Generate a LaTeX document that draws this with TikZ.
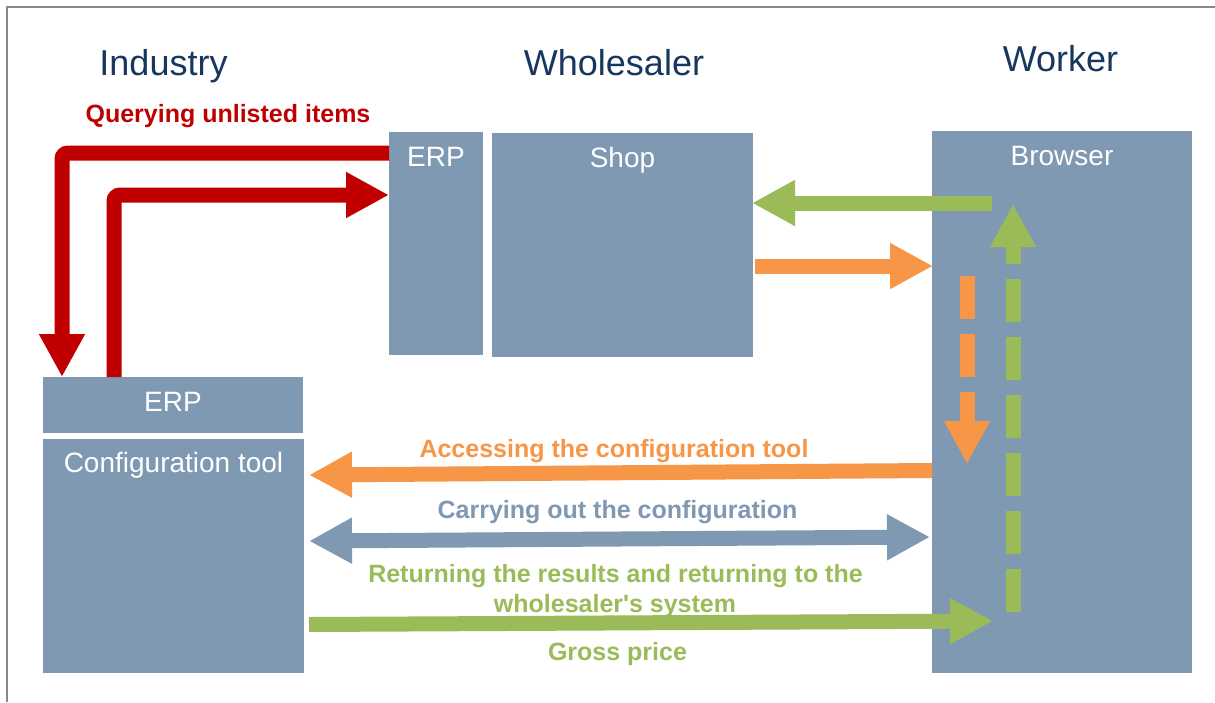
\documentclass[tikz,border=0pt]{standalone}
\usepackage{fontspec}
\setmainfont{Liberation Sans}
\usetikzlibrary{arrows.meta,calc}
\definecolor{boxblue}{RGB}{127,153,178}
\definecolor{navy}{RGB}{23,55,94}
\definecolor{cred}{RGB}{192,0,0}
\definecolor{corange}{RGB}{247,150,70}
\definecolor{cgreen}{RGB}{155,187,89}
\definecolor{framegray}{RGB}{136,136,136}
\begin{document}
\begin{tikzpicture}[x=1pt,y=-1pt,
  box/.style={fill=boxblue, draw=none, inner sep=0pt, outer sep=0pt, anchor=north west},
  boxtext/.style={text=white, font=\fontsize{28}{32}\selectfont, inner sep=0pt, anchor=base},
  header/.style={text=navy, font=\fontsize{36}{42}\selectfont, inner sep=0pt, anchor=base},
  lab/.style={font=\bfseries\fontsize{25}{29}\selectfont, inner sep=0pt, anchor=base},
  fat/.style={line width=15pt, -{Triangle[length=43pt,width=43pt]}},
  dashfat/.style={fat, dash pattern=on 43pt off 15pt},
  twohead/.style={line width=15pt, {Triangle[length=43pt,width=43pt]}-{Triangle[length=43pt,width=43pt]}}]
\useasboundingbox (0,0) rectangle (1215,702);
\fill[white] (0,0) rectangle (1215,702);
\draw[framegray, line width=2pt] (7,702) -- (7,7) -- (1215,7);

% boxes
\node[box, minimum width=94pt, minimum height=223pt] (werp) at (389,132) {};
\node[box, minimum width=261pt, minimum height=224pt] (shop) at (492,133) {};
\node[box, minimum width=260pt, minimum height=542pt] (browser) at (932,131) {};
\node[box, minimum width=260pt, minimum height=56pt] (ierp) at (43,377) {};
\node[box, minimum width=261pt, minimum height=234pt] (ctool) at (43,439) {};

% box labels
\node[boxtext] (werpL) at ($(werp.north)+(0,34)$) {ERP};
\node[boxtext] (shopL) at ($(shop.north)+(0,34)$) {Shop};
\node[boxtext] (browserL) at ($(browser.north)+(0,34)$) {Browser};
\node[boxtext] (ierpL) at ($(ierp.north)+(0,34)$) {ERP};
\node[boxtext] (ctoolL) at ($(ctool.north)+(0,33)$) {Configuration tool};

% headers
\node[header] (hInd) at (163.5,75) {Industry};
\node[header] (hWho) at (614,75) {Wholesaler};
\node[header] (hWor) at (1060.5,71) {Worker};

% arrow labels
\node[lab, text=cred] (lQ) at (228,122) {Querying unlisted items};
\node[lab, text=corange] (lA) at (614,457) {Accessing the configuration tool};
\node[lab, text=boxblue] (lC) at (617.5,518) {Carrying out the configuration};
\node[lab, text=cgreen] (lR1) at (615.5,582) {Returning the results and returning to the};
\node[lab, text=cgreen] (lR2) at (615,612) {wholesaler\textquotesingle s system};
\node[lab, text=cgreen] (lG) at (617.5,660) {Gross price};

% red arrows
\draw[fat, cred, rounded corners=6pt] ($(werp.north west)+(0,21)$) -| ($(ierp.north west)+(19,0)$);
\draw[fat, cred, rounded corners=6pt] ($(ierp.north west)+(71,0)$) |- ($(werp.north west)+(0,63)$);

% shop <-> browser
\draw[fat, cgreen] ($(browser.north west)+(60,72)$) -- ($(shop.north east)+(-1,70)$);
\draw[fat, corange] ($(shop.north east)+(2,133)$) -- ($(browser.north west)+(1,135)$);

% dashed in browser
\draw[dashfat, corange] ($(browser.north west)+(35,145)$) -- ($(browser.north west)+(35,333)$);
\draw[dashfat, cgreen] ($(browser.north west)+(81,481)$) -- ($(browser.north west)+(81,73)$);

% browser <-> configuration tool
\draw[fat, corange] ($(browser.north west)+(0,339.5)$) -- ($(ctool.north east)+(5,36)$);
\draw[twohead, boxblue] ($(ctool.north east)+(5,102)$) -- ($(browser.north west)+(-2,406)$);
\draw[fat, cgreen] ($(ctool.north east)+(5,185.5)$) -- ($(browser.north west)+(61,490)$);
\end{tikzpicture}
\end{document}
